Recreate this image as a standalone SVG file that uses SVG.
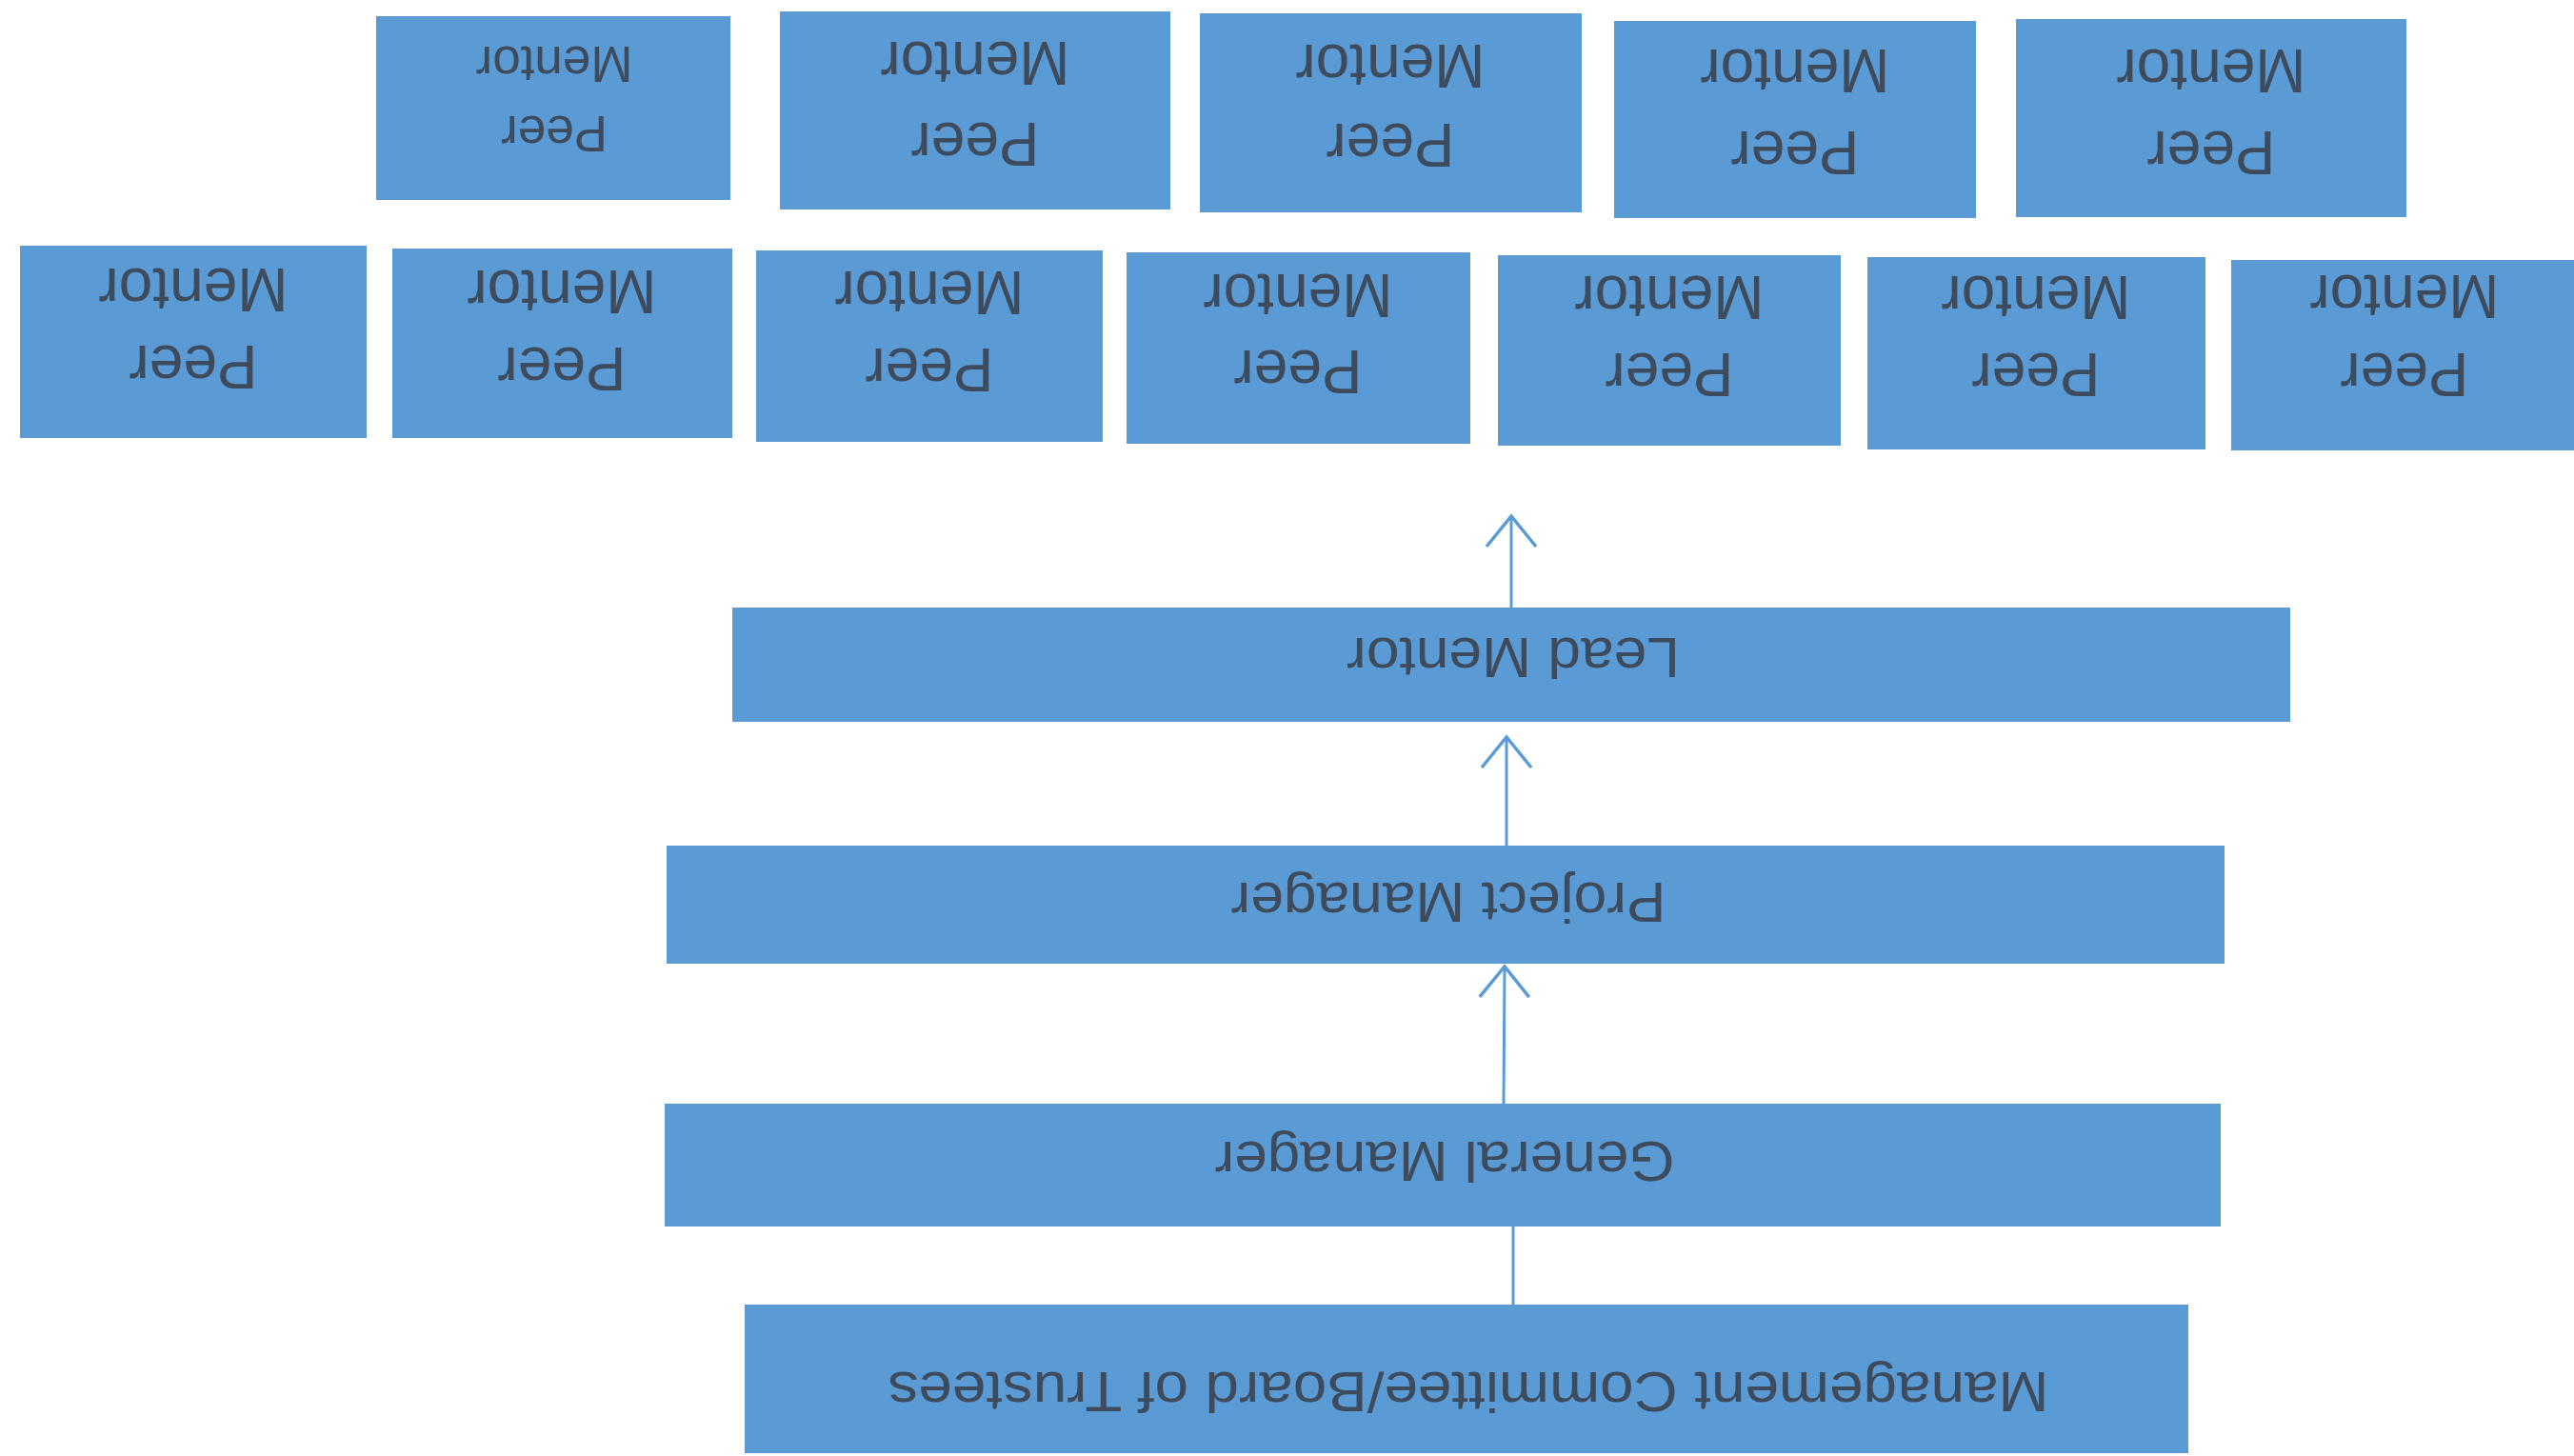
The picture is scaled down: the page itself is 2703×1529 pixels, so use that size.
<svg xmlns="http://www.w3.org/2000/svg" width="2703" height="1529" viewBox="0 0 2703 1529">
<style>
.box{fill:#5b9bd5}
.t{font-family:"Liberation Sans",Arial,sans-serif;fill:#3e4b5c;text-anchor:middle}
.pm{font-size:64px}
.pm1{font-size:53px}
.bar{font-size:60px}
.con{stroke:#5b9bd5;stroke-width:3;fill:none}
</style>
<defs>
<marker id="arr" markerUnits="userSpaceOnUse" markerWidth="60" markerHeight="60" viewBox="0 0 60 60" refX="40" refY="30" orient="auto">
<path d="M8,4 L40,30 L8,56" fill="none" stroke="#5b9bd5" stroke-width="3.5"/>
</marker>
</defs>
<rect width="2703" height="1529" fill="#ffffff"/>

<g id="peer-r1-a"><rect class="box" x="395" y="17" width="372" height="193"/>
<text class="t pm1" x="582" y="49" transform="rotate(180 582 49)">Mentor</text>
<text class="t pm1" x="582" y="122" transform="rotate(180 582 122)">Peer</text></g>
<g id="peer-r1-b"><rect class="box" x="819" y="12" width="410" height="208"/>
<text class="t pm" x="1024" y="44" transform="rotate(180 1024 44)">Mentor</text>
<text class="t pm" x="1024" y="129" transform="rotate(180 1024 129)">Peer</text></g>
<g id="peer-r1-c"><rect class="box" x="1260" y="14" width="401" height="209"/>
<text class="t pm" x="1460" y="47" transform="rotate(180 1460 47)">Mentor</text>
<text class="t pm" x="1460" y="130" transform="rotate(180 1460 130)">Peer</text></g>
<g id="peer-r1-d"><rect class="box" x="1695" y="22" width="380" height="207"/>
<text class="t pm" x="1885" y="52" transform="rotate(180 1885 52)">Mentor</text>
<text class="t pm" x="1885" y="138" transform="rotate(180 1885 138)">Peer</text></g>
<g id="peer-r1-e"><rect class="box" x="2117" y="20" width="410" height="208"/>
<text class="t pm" x="2322" y="52" transform="rotate(180 2322 52)">Mentor</text>
<text class="t pm" x="2322" y="138" transform="rotate(180 2322 138)">Peer</text></g>

<g id="peer-r2-1"><rect class="box" x="21" y="258" width="364" height="202"/>
<text class="t pm" x="203" y="282" transform="rotate(180 203 282)">Mentor</text>
<text class="t pm" x="203" y="363" transform="rotate(180 203 363)">Peer</text></g>
<g id="peer-r2-2"><rect class="box" x="412" y="261" width="357" height="199"/>
<text class="t pm" x="590" y="284" transform="rotate(180 590 284)">Mentor</text>
<text class="t pm" x="590" y="365" transform="rotate(180 590 365)">Peer</text></g>
<g id="peer-r2-3"><rect class="box" x="794" y="263" width="364" height="201"/>
<text class="t pm" x="976" y="285" transform="rotate(180 976 285)">Mentor</text>
<text class="t pm" x="976" y="366" transform="rotate(180 976 366)">Peer</text></g>
<g id="peer-r2-4"><rect class="box" x="1183" y="265" width="361" height="201"/>
<text class="t pm" x="1363" y="288" transform="rotate(180 1363 288)">Mentor</text>
<text class="t pm" x="1363" y="368" transform="rotate(180 1363 368)">Peer</text></g>
<g id="peer-r2-5"><rect class="box" x="1573" y="268" width="360" height="200"/>
<text class="t pm" x="1753" y="290" transform="rotate(180 1753 290)">Mentor</text>
<text class="t pm" x="1753" y="371" transform="rotate(180 1753 371)">Peer</text></g>
<g id="peer-r2-6"><rect class="box" x="1961" y="270" width="355" height="202"/>
<text class="t pm" x="2138" y="290" transform="rotate(180 2138 290)">Mentor</text>
<text class="t pm" x="2138" y="371" transform="rotate(180 2138 371)">Peer</text></g>
<g id="peer-r2-7"><rect class="box" x="2343" y="273" width="360" height="200"/>
<text class="t pm" x="2525" y="289" transform="rotate(180 2525 289)">Mentor</text>
<text class="t pm" x="2525" y="371" transform="rotate(180 2525 371)">Peer</text></g>

<g id="lead-mentor"><rect class="box" x="769" y="638" width="1636" height="120"/>
<text class="t bar" x="1589" y="670" transform="rotate(180 1589 670)" textLength="350" lengthAdjust="spacingAndGlyphs">Lead Mentor</text></g>
<g id="project-manager"><rect class="box" x="700" y="888" width="1636" height="124"/>
<text class="t bar" x="1521" y="927" transform="rotate(180 1521 927)" textLength="457" lengthAdjust="spacingAndGlyphs">Project Manager</text></g>
<g id="general-manager"><rect class="box" x="698" y="1159" width="1634" height="129"/>
<text class="t bar" x="1517" y="1199" transform="rotate(180 1517 1199)" textLength="483" lengthAdjust="spacingAndGlyphs">General Manager</text></g>
<g id="management"><rect class="box" x="782" y="1370" width="1516" height="156"/>
<text class="t bar" x="1542" y="1441" transform="rotate(180 1542 1441)" font-size="62" textLength="1219" lengthAdjust="spacingAndGlyphs">Management Committee/Board of Trustees</text></g>

<g id="connectors">
<line class="con" x1="1589" y1="1370" x2="1589" y2="1288"/>
<line class="con" x1="1579" y1="1159" x2="1580" y2="1015" marker-end="url(#arr)"/>
<line class="con" x1="1582" y1="888" x2="1582" y2="774" marker-end="url(#arr)"/>
<line class="con" x1="1587" y1="638" x2="1587" y2="542" marker-end="url(#arr)"/>
</g>
</svg>
